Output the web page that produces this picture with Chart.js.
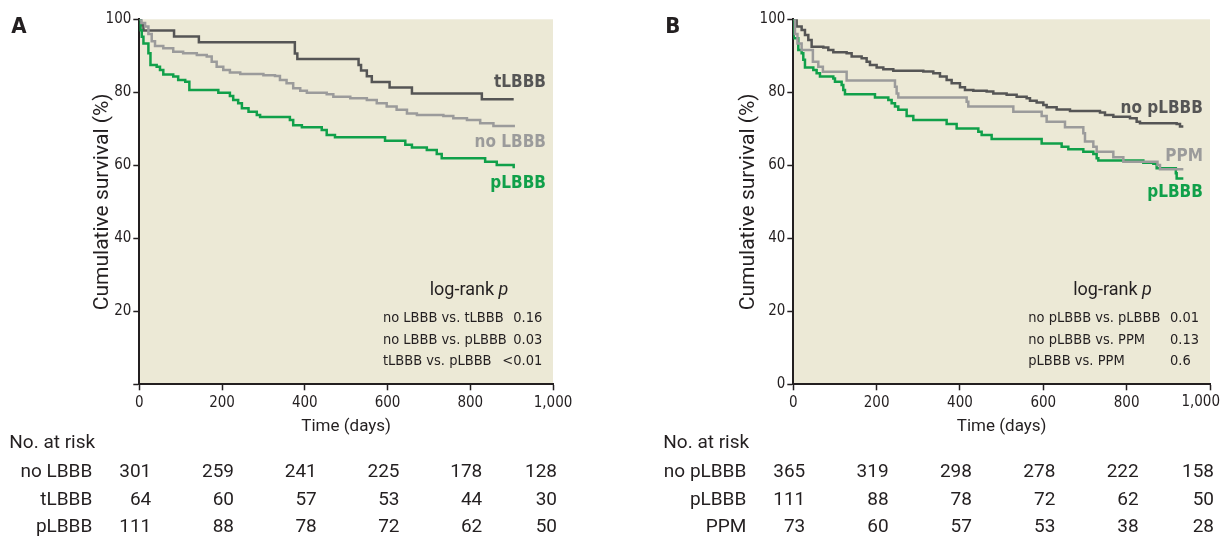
<!DOCTYPE html>
<html>
<head>
<meta charset="utf-8">
<script src="https://cdn.jsdelivr.net/npm/chart.js@4.4.1/dist/chart.umd.min.js"></script>
<style>
  html, body { margin: 0; padding: 0; background: #fff; overflow: hidden; }
  body { width: 1220px; height: 538px; position: relative; }
  .panel { position: absolute; top: 0; }
  #panel-a { left: 0; }
  #panel-b { left: 600px; }
</style>
</head>
<body>
<div class="panel" id="panel-a"><canvas id="chart-a" width="610" height="538"></canvas></div>
<div class="panel" id="panel-b"><canvas id="chart-b" width="630" height="538"></canvas></div>
<script>
'use strict';

function byId(id) { return document.getElementById(id); }

const NARROW = '"Liberation Sans Narrow", "DejaVu Sans Condensed", Roboto, sans-serif';
const PLAIN = 'Roboto, "Liberation Sans", sans-serif';
const INK = '#231f20';
const BG = '#ece9d6';
const DARK = '#555555';
const GREY = '#9b9b9b';
const GREEN = '#10a04a';

const timeTicks = [0, 200, 400, 600, 800, 1000];

// ---- panel A : survival curves (days, %)
const aTlbbbDays = [0, 4, 10, 84, 144, 376, 382, 530, 536, 550, 562, 605, 659, 828, 905];
const aTlbbbSurv = [100, 98.4, 96.9, 95.3, 93.7, 90.6, 89.1, 87.5, 86.0, 84.4, 82.8, 81.3, 79.7, 78.1, 78.1];

const aNoDays = [0, 5, 14, 22, 30, 38, 58, 82, 106, 139, 163, 175, 187, 203, 219, 244, 300, 328, 340, 356,
  372, 389, 405, 453, 469, 510, 550, 574, 598, 622, 647, 671, 735, 759, 792, 824, 856, 905];
const aNoSurv = [100, 99, 98, 96, 94, 92.7, 92.1, 91.1, 90.7, 90.2, 89.8, 88.4, 87.0, 86.1, 85.4, 85.0, 84.7, 84.5, 83.4, 82.5,
  81.1, 80.4, 79.9, 79.5, 78.8, 78.4, 77.9, 77.0, 76.1, 75.2, 74.2, 73.8, 73.5, 72.9, 72.4, 71.5, 70.8, 70.4];

const aPlbbbDays = [0, 3, 6, 10, 22, 27, 42, 50, 58, 82, 94, 111, 121, 191, 219, 227, 239, 248, 264, 284,
  292, 364, 372, 393, 441, 453, 473, 594, 643, 659, 695, 719, 731, 836, 864, 905];
const aPlbbbSurv = [100, 97, 95.2, 93.4, 90.7, 87.5, 87.0, 86.1, 84.9, 84.3, 83.4, 82.9, 80.6, 79.9, 79.0, 77.9, 77.0, 75.6, 74.7, 73.8,
  73.2, 72.4, 71.0, 70.4, 69.7, 68.3, 67.7, 66.7, 65.6, 64.9, 64.2, 63.1, 61.9, 61.0, 60.1, 59.2];

const aRiskLabels = ['no LBBB', 'tLBBB', 'pLBBB'];
const aRiskNoLbbb = [301, 259, 241, 225, 178, 128];
const aRiskTlbbb = [64, 60, 57, 53, 44, 30];
const aRiskPlbbb = [111, 88, 78, 72, 62, 50];

const aPairs = ['no LBBB vs. tLBBB', 'no LBBB vs. pLBBB', 'tLBBB vs. pLBBB'];
const aPValues = ['0.16', '0.03', '<0.01'];

// ---- panel B
const bNoDays = [0, 8, 20, 28, 36, 44, 72, 84, 96, 128, 140, 164, 176, 184, 200, 216, 240, 312, 336, 352,
  368, 380, 400, 412, 432, 464, 480, 512, 536, 560, 568, 584, 600, 608, 632, 664, 736, 748, 768, 808,
  824, 832, 920, 928, 936];
const bNoSurv = [100, 98.0, 97.1, 95.7, 94.3, 92.5, 92.3, 91.6, 91.0, 90.7, 89.8, 89.3, 88.4, 87.5, 86.8, 86.3, 85.9, 85.7, 85.2, 84.3,
  83.4, 82.5, 81.4, 80.6, 80.4, 80.2, 79.7, 79.3, 78.8, 78.4, 77.7, 77.2, 76.5, 75.9, 75.3, 74.9, 74.5, 73.8, 73.3, 72.9,
  71.9, 71.5, 71.3, 70.6, 70.6];

const bPpmDays = [0, 4, 10, 20, 47, 60, 71, 128, 244, 248, 252, 416, 420, 528, 596, 608, 652, 696, 700, 720,
  728, 768, 792, 874, 880, 936];
const bPpmSurv = [100, 96, 93.4, 91.6, 88.4, 87.0, 85.6, 83.2, 81.5, 79.7, 78.6, 77.4, 76.1, 74.7, 73.5, 71.9, 70.4, 68.8, 66.5, 65.1,
  63.7, 62.2, 61.0, 60.1, 58.9, 58.9];

const bPlbbbDays = [0, 1, 12, 20, 24, 28, 48, 56, 64, 96, 100, 116, 120, 124, 196, 228, 236, 244, 252, 272,
  288, 368, 392, 444, 452, 476, 596, 644, 660, 696, 720, 728, 732, 840, 864, 872, 918, 920, 936];
const bPlbbbSurv = [100, 94.8, 91.6, 90.7, 88.9, 86.8, 86.1, 85.2, 84.3, 83.8, 82.9, 82.0, 80.6, 79.5, 78.6, 77.9, 77.0, 76.1, 75.2, 73.5,
  72.4, 71.3, 70.1, 69.2, 68.3, 67.2, 66.0, 65.1, 64.4, 63.7, 63.1, 61.9, 61.3, 60.7, 60.4, 59.2, 57.8, 56.4, 56.4];

const bRiskLabels = ['no pLBBB', 'pLBBB', 'PPM'];
const bRiskNoPlbbb = [365, 319, 298, 278, 222, 158];
const bRiskPlbbb = [111, 88, 78, 72, 62, 50];
const bRiskPpm = [73, 60, 57, 53, 38, 28];

const bPairs = ['no pLBBB vs. pLBBB', 'no pLBBB vs. PPM', 'pLBBB vs. PPM'];
const bPValues = ['0.01', '0.13', '0.6'];


function points(days, surv) {
  return days.map((d, i) => ({ x: d, y: surv[i] }));
}

// Kaplan-Meier style: hold the previous level, then drop at the event day
function curve(label, days, surv, color) {
  return {
    label: label,
    data: points(days, surv),
    borderColor: color,
    borderWidth: 2.5,
    pointRadius: 0,
    stepped: 'before',
    fill: false
  };
}

// background, panel letter, curve names, log-rank box and at-risk table
function extrasPlugin(p) {
  return {
    id: 'kmExtras',
    beforeDraw(chart) {
      const { ctx, chartArea: a } = chart;
      ctx.save();
      ctx.fillStyle = BG;
      ctx.fillRect(a.left, a.top, a.right - a.left, a.bottom - a.top);
      ctx.restore();
    },
    afterDraw(chart) {
      const { ctx, chartArea: a } = chart;
      const x = chart.scales.x;
      const y = chart.scales.y;
      ctx.save();

      ctx.fillStyle = INK;
      ctx.textBaseline = 'alphabetic';
      ctx.textAlign = 'left';
      ctx.font = `bold 22px ${NARROW}`;
      ctx.fillText(p.letter, a.left - 128, 33);

      // last x tick label kept inside the page
      if (p.edgeLabel) {
        ctx.font = `15px ${NARROW}`;
        ctx.textAlign = 'right';
        ctx.textBaseline = 'middle';
        ctx.fillText('1,000', x.getPixelForValue(1000) + 10, a.bottom + 18);
      }

      // curve names
      ctx.font = `bold 17px ${NARROW}`;
      ctx.textAlign = 'right';
      ctx.textBaseline = 'middle';
      for (let n of p.names) {
        ctx.fillStyle = n.color;
        ctx.fillText(n.text, x.getPixelForValue(983), y.getPixelForValue(n.at));
      }

      // log-rank p
      ctx.fillStyle = INK;
      ctx.font = `18px ${PLAIN}`;
      const head = 'log-rank ';
      const w1 = ctx.measureText(head).width;
      ctx.font = `italic 18px ${PLAIN}`;
      const w2 = ctx.measureText('p').width;
      const cx = x.getPixelForValue(p.logrankAt) - (w1 + w2) / 2;
      const cy = y.getPixelForValue(25.8);
      ctx.textAlign = 'left';
      ctx.font = `18px ${PLAIN}`;
      ctx.fillText(head, cx, cy);
      ctx.font = `italic 18px ${PLAIN}`;
      ctx.fillText('p', cx + w1, cy);

      ctx.font = `14.5px ${NARROW}`;
      const rowsAt = [18.2, 12.1, 6.3];
      p.pairs.forEach((txt, i) => {
        const ry = y.getPixelForValue(rowsAt[i]);
        ctx.textAlign = 'left';
        ctx.fillText(txt, x.getPixelForValue(p.pairsAt), ry);
        ctx.textAlign = p.valueAlign;
        ctx.fillText(p.pValues[i], x.getPixelForValue(p.valuesAt), ry);
      });

      // number at risk
      ctx.textBaseline = 'alphabetic';
      ctx.font = `19px ${PLAIN}`;
      ctx.textAlign = 'left';
      ctx.fillText('No. at risk', a.left - 130, 448);
      p.risk.forEach((row, r) => {
        const ry = 477 + r * 27.5;
        ctx.textAlign = 'right';
        ctx.fillText(p.riskLabels[r], a.left - 47, ry);
        row.forEach((n, i) => {
          const px = Math.min(x.getPixelForValue(timeTicks[i]) + 12, a.right + 4);
          ctx.fillText(String(n), px, ry);
        });
      });

      ctx.restore();
    }
  };
}

function makePanel(canvasId, p) {
  const axisFont = { family: NARROW, size: 15 };
  const config = {
    type: 'line',
    data: { datasets: p.datasets },
    options: {
      responsive: false,
      animation: false,
      layout: { padding: { left: p.padLeft, right: p.padRight, top: 19.3, bottom: 96.7 } },
      plugins: { legend: { display: false }, tooltip: { enabled: false } },
      scales: {
        x: {
          type: 'linear',
          min: 0,
          max: 1000,
          afterFit: s => { s.height = 57; },
          ticks: {
            stepSize: 200, color: INK, font: axisFont, padding: 4, maxRotation: 0,
            callback: v => (v === 1000 && p.edgeLabel) ? '' : v.toLocaleString('en-US')
          },
          grid: { drawOnChartArea: false, tickLength: 6, tickColor: INK, tickWidth: 1.5 },
          border: { color: INK, width: 2 },
          title: { display: true, text: 'Time (days)', color: INK, font: { family: PLAIN, size: 17 }, padding: 4 }
        },
        y: {
          min: 0,
          max: 100,
          afterFit: s => { s.width = p.yWidth; },
          ticks: {
            stepSize: 20, color: INK, font: axisFont, padding: 2,
            callback: v => (v === 0 && !p.showZero) ? '' : v
          },
          grid: { drawOnChartArea: false, tickLength: 6, tickColor: INK, tickWidth: 1.5 },
          border: { color: INK, width: 2 },
          title: { display: true, text: 'Cumulative survival (%)', color: INK, font: { family: PLAIN, size: 21 }, padding: 4 }
        }
      }
    },
    plugins: [extrasPlugin(p)]
  };
  return new Chart(byId(canvasId), config);
}

makePanel('chart-a', {
  letter: 'A',
  padLeft: 86.4, padRight: 57, yWidth: 52.9, showZero: false, edgeLabel: false,
  datasets: [
    curve('no LBBB', aNoDays, aNoSurv, GREY),
    curve('pLBBB', aPlbbbDays, aPlbbbSurv, GREEN),
    curve('tLBBB', aTlbbbDays, aTlbbbSurv, DARK)
  ],
  names: [
    { text: 'tLBBB', at: 82.7, color: DARK },
    { text: 'no LBBB', at: 66.2, color: GREY },
    { text: 'pLBBB', at: 55, color: GREEN }
  ],
  logrankAt: 797,
  pairs: aPairs, pValues: aPValues,
  pairsAt: 589, valuesAt: 974, valueAlign: 'right',
  riskLabels: aRiskLabels,
  risk: [aRiskNoLbbb, aRiskTlbbb, aRiskPlbbb]
});

makePanel('chart-b', {
  letter: 'B',
  padLeft: 132.4, padRight: 20, yWidth: 60.9, showZero: true, edgeLabel: true,
  datasets: [
    curve('PPM', bPpmDays, bPpmSurv, GREY),
    curve('pLBBB', bPlbbbDays, bPlbbbSurv, GREEN),
    curve('no pLBBB', bNoDays, bNoSurv, DARK)
  ],
  names: [
    { text: 'no pLBBB', at: 75.5, color: DARK },
    { text: 'PPM', at: 62.5, color: GREY },
    { text: 'pLBBB', at: 52.4, color: GREEN }
  ],
  logrankAt: 766,
  pairs: bPairs, pValues: bPValues,
  pairsAt: 564, valuesAt: 904, valueAlign: 'left',
  riskLabels: bRiskLabels,
  risk: [bRiskNoPlbbb, bRiskPlbbb, bRiskPpm]
});
</script>
</body>
</html>
